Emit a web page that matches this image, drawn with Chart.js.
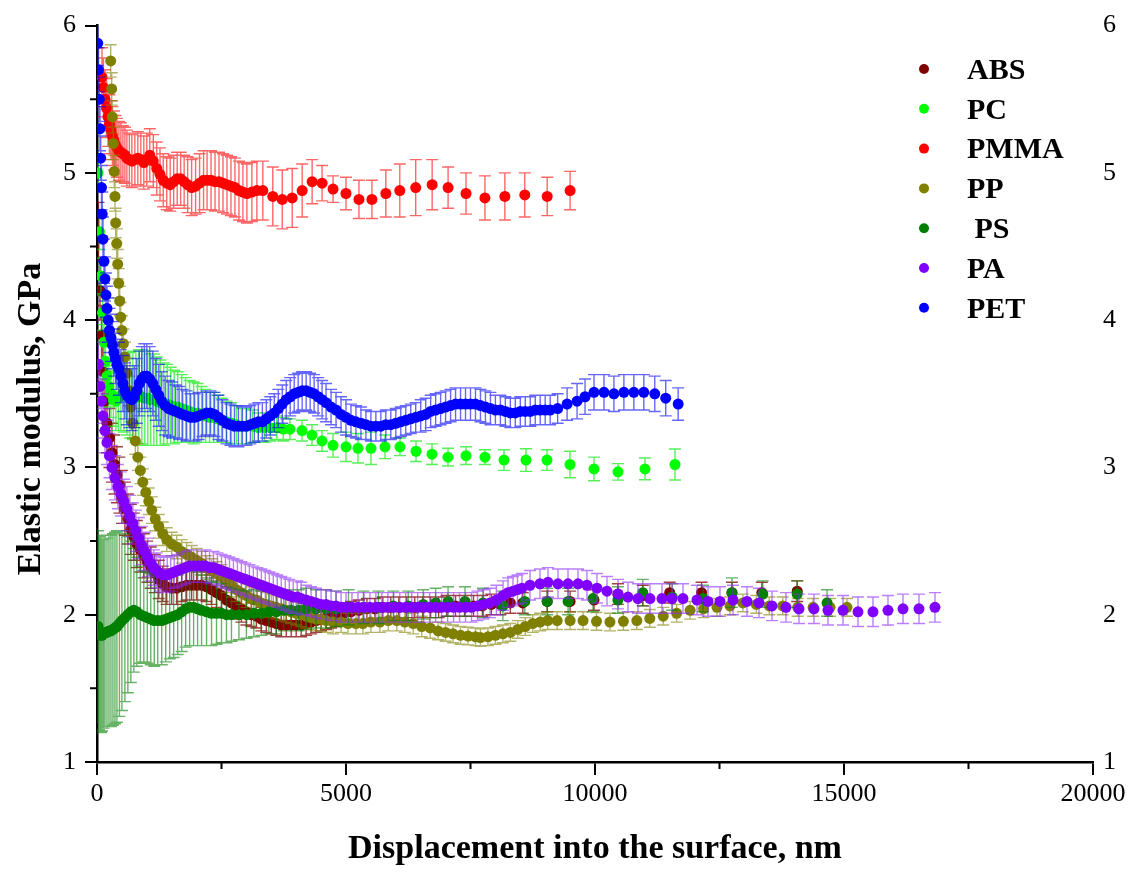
<!DOCTYPE html>
<html lang="en">
<head>
    <title>Elastic modulus vs displacement</title>
    <script src="https://cdn.jsdelivr.net/npm/chart.js"></script>
    <style>
        body { margin: 0; background: #fff; }
    </style>
</head>
<body>
    <canvas id="modulusChart" width="1137" height="874"></canvas>

    <script>
        // rows are [displacement nm, modulus GPa, error GPa]
        var ABS = [[30,4.6,0.2],[60,4.2,0.2],[90,3.9,0.2],[120,3.65,0.2],[160,3.45,0.2],[200,3.3,0.2],[250,3.2,0.2],[300,3.1,0.2],[350,3.02,0.2],[400,2.95,0.19],[450,2.88,0.19],[500,2.8,0.18],[560,2.72,0.18],[620,2.65,0.17],[680,2.58,0.17],[740,2.53,0.16],[800,2.48,0.16],[870,2.44,0.15],[940,2.40,0.15],[1010,2.36,0.14],[1080,2.32,0.14],[1160,2.28,0.13],[1240,2.24,0.13],[1320,2.21,0.12],[1400,2.19,0.12],[1500,2.18,0.11],[1600,2.18,0.11],[1700,2.19,0.1],[1800,2.20,0.1],[1900,2.20,0.1],[2000,2.20,0.1],[2100,2.20,0.1],[2200,2.19,0.1],[2300,2.17,0.1],[2400,2.15,0.1],[2500,2.13,0.1],[2600,2.10,0.09],[2700,2.08,0.09],[2800,2.06,0.09],[2900,2.04,0.09],[3000,2.02,0.09],[3100,2.00,0.08],[3200,1.99,0.08],[3300,1.97,0.08],[3400,1.96,0.08],[3500,1.95,0.08],[3600,1.94,0.08],[3700,1.93,0.08],[3800,1.93,0.08],[3900,1.93,0.08],[4000,1.93,0.08],[4100,1.93,0.08],[4200,1.94,0.08],[4300,1.95,0.08],[4400,1.96,0.08],[4500,1.97,0.08],[4600,1.98,0.08],[4700,1.99,0.08],[4800,2.00,0.08],[4950,2.01,0.07],[5100,2.02,0.07],[5260,2.03,0.07],[5420,2.04,0.07],[5580,2.04,0.07],[5740,2.05,0.07],[5900,2.05,0.07],[6060,2.05,0.07],[6220,2.05,0.07],[6380,2.05,0.07],[6540,2.05,0.07],[6700,2.05,0.07],[6860,2.05,0.07],[7020,2.06,0.07],[7200,2.06,0.07],[7380,2.06,0.07],[7560,2.06,0.07],[7740,2.06,0.07],[7920,2.07,0.07],[8100,2.07,0.07],[8300,2.08,0.07],[8550,2.08,0.07],[9040,2.09,0.07],[9500,2.09,0.07],[9980,2.10,0.07],[10460,2.14,0.07],[10960,2.13,0.07],[11500,2.15,0.07],[12140,2.15,0.07],[12750,2.15,0.07],[13350,2.15,0.07],[14060,2.16,0.07]];

        var PC = [[20,5.0,0.12],[50,4.6,0.12],[80,4.3,0.12],[110,4.05,0.12],[140,3.85,0.12],[170,3.72,0.12],[200,3.62,0.13],[240,3.55,0.14],[280,3.50,0.16],[330,3.46,0.18],[380,3.45,0.2],[430,3.47,0.22],[480,3.49,0.24],[540,3.50,0.26],[600,3.50,0.28],[660,3.49,0.29],[720,3.49,0.3],[780,3.48,0.31],[840,3.48,0.32],[900,3.48,0.32],[960,3.47,0.32],[1020,3.47,0.32],[1080,3.46,0.31],[1140,3.46,0.31],[1200,3.45,0.3],[1270,3.44,0.29],[1340,3.43,0.28],[1410,3.43,0.27],[1480,3.42,0.26],[1550,3.41,0.25],[1620,3.41,0.24],[1700,3.40,0.23],[1780,3.39,0.22],[1860,3.38,0.21],[1940,3.37,0.21],[2020,3.37,0.2],[2100,3.36,0.19],[2180,3.35,0.18],[2260,3.34,0.17],[2340,3.34,0.17],[2420,3.33,0.16],[2500,3.32,0.15],[2600,3.31,0.14],[2700,3.30,0.14],[2800,3.29,0.13],[2900,3.28,0.12],[3000,3.28,0.12],[3120,3.28,0.11],[3240,3.27,0.1],[3360,3.27,0.1],[3480,3.27,0.09],[3610,3.27,0.08],[3740,3.26,0.08],[3875,3.26,0.07],[4116,3.25,0.07],[4317,3.22,0.07],[4518,3.18,0.07],[4739,3.15,0.08],[5000,3.14,0.1],[5241,3.13,0.1],[5502,3.13,0.11],[5783,3.14,0.08],[6084,3.14,0.06],[6406,3.11,0.07],[6727,3.09,0.07],[7048,3.07,0.06],[7410,3.08,0.06],[7791,3.07,0.05],[8173,3.05,0.07],[8614,3.05,0.077],[9036,3.05,0.07],[9498,3.02,0.09],[9980,2.99,0.08],[10462,2.97,0.056],[11004,2.99,0.074],[11606,3.02,0.105]];

        var PMMA = [[100,5.65,0.2],[130,5.58,0.2],[160,5.50,0.2],[190,5.44,0.2],[220,5.38,0.2],[250,5.33,0.2],[280,5.29,0.2],[310,5.25,0.2],[340,5.22,0.2],[370,5.19,0.2],[400,5.17,0.2],[440,5.15,0.2],[480,5.14,0.2],[520,5.13,0.19],[560,5.12,0.19],[600,5.10,0.19],[650,5.09,0.18],[700,5.08,0.18],[760,5.09,0.18],[820,5.10,0.18],[880,5.09,0.18],[940,5.07,0.18],[1000,5.09,0.18],[1060,5.12,0.18],[1130,5.08,0.18],[1200,5.03,0.18],[1265,4.99,0.18],[1330,4.95,0.18],[1400,4.93,0.18],[1470,4.92,0.18],[1540,4.94,0.18],[1610,4.96,0.18],[1680,4.96,0.18],[1750,4.94,0.18],[1820,4.92,0.19],[1900,4.90,0.19],[1980,4.91,0.19],[2060,4.93,0.2],[2140,4.95,0.2],[2210,4.95,0.2],[2290,4.95,0.2],[2370,4.94,0.2],[2450,4.94,0.2],[2530,4.93,0.2],[2610,4.92,0.2],[2690,4.91,0.2],[2770,4.90,0.2],[2850,4.88,0.2],[2930,4.87,0.2],[3010,4.86,0.2],[3110,4.87,0.2],[3210,4.88,0.2],[3330,4.88,0.2],[3530,4.84,0.2],[3720,4.82,0.2],[3920,4.83,0.2],[4120,4.88,0.18],[4320,4.94,0.15],[4520,4.93,0.12],[4740,4.89,0.09],[5000,4.86,0.11],[5260,4.82,0.13],[5520,4.82,0.13],[5800,4.86,0.16],[6080,4.88,0.18],[6400,4.90,0.19],[6730,4.92,0.17],[7050,4.90,0.14],[7410,4.86,0.14],[7790,4.83,0.15],[8190,4.84,0.16],[8590,4.85,0.15],[9040,4.84,0.13],[9500,4.88,0.13]];

        var PP = [[275,5.76,0.11],[295,5.57,0.11],[307,5.38,0.11],[327,5.20,0.11],[347,5.01,0.11],[361,4.84,0.1],[375,4.66,0.1],[396,4.52,0.1],[416,4.38,0.1],[436,4.25,0.1],[456,4.13,0.1],[476,4.02,0.1],[500,3.93,0.1],[530,3.84,0.1],[560,3.75,0.1],[600,3.64,0.1],[640,3.52,0.1],[680,3.41,0.1],[720,3.30,0.1],[770,3.18,0.09],[820,3.07,0.09],[870,2.98,0.09],[920,2.90,0.09],[980,2.83,0.09],[1040,2.77,0.09],[1100,2.71,0.09],[1170,2.65,0.08],[1240,2.60,0.08],[1320,2.55,0.08],[1400,2.51,0.08],[1500,2.48,0.08],[1600,2.46,0.08],[1700,2.43,0.08],[1800,2.41,0.08],[1900,2.39,0.08],[2000,2.37,0.08],[2100,2.35,0.08],[2200,2.32,0.08],[2300,2.30,0.08],[2400,2.28,0.08],[2500,2.26,0.08],[2600,2.23,0.08],[2700,2.20,0.08],[2800,2.17,0.08],[2900,2.15,0.08],[3000,2.13,0.08],[3100,2.11,0.08],[3200,2.10,0.08],[3300,2.08,0.08],[3400,2.07,0.08],[3500,2.06,0.08],[3600,2.05,0.08],[3700,2.04,0.08],[3800,2.03,0.08],[3900,2.02,0.08],[4000,2.01,0.08],[4100,2.00,0.08],[4200,1.99,0.08],[4300,1.98,0.08],[4400,1.97,0.08],[4500,1.97,0.08],[4600,1.96,0.08],[4740,1.95,0.08],[4900,1.95,0.07],[5040,1.94,0.07],[5200,1.94,0.07],[5340,1.94,0.07],[5500,1.95,0.07],[5680,1.95,0.07],[5850,1.96,0.07],[6020,1.96,0.07],[6180,1.95,0.07],[6350,1.94,0.07],[6520,1.92,0.07],[6690,1.91,0.07],[6850,1.89,0.06],[7000,1.88,0.06],[7150,1.87,0.06],[7300,1.86,0.06],[7450,1.855,0.06],[7600,1.85,0.06],[7700,1.845,0.06],[7850,1.85,0.06],[8000,1.86,0.06],[8150,1.87,0.06],[8300,1.88,0.06],[8450,1.90,0.06],[8600,1.92,0.06],[8750,1.94,0.06],[8900,1.95,0.06],[9050,1.96,0.06],[9240,1.96,0.06],[9500,1.96,0.06],[9760,1.96,0.06],[10030,1.955,0.06],[10300,1.95,0.06],[10570,1.955,0.06],[10840,1.96,0.06],[11100,1.975,0.06],[11370,1.99,0.06],[11640,2.01,0.06],[11910,2.03,0.06],[12180,2.04,0.06],[12450,2.05,0.06],[12710,2.06,0.06],[12970,2.08,0.06],[13240,2.07,0.06],[13500,2.06,0.06],[13770,2.06,0.06],[14070,2.05,0.06],[14380,2.05,0.06],[14720,2.05,0.06],[15060,2.05,0.06]];

        var PS = [[20,1.92,0.65],[40,1.88,0.66],[60,1.87,0.66],[80,1.86,0.66],[100,1.86,0.65],[130,1.87,0.64],[160,1.88,0.64],[200,1.88,0.64],[240,1.89,0.65],[280,1.89,0.65],[320,1.90,0.65],[360,1.91,0.65],[400,1.92,0.65],[450,1.94,0.63],[500,1.96,0.61],[560,1.98,0.57],[620,2.00,0.53],[680,2.02,0.48],[740,2.03,0.42],[800,2.02,0.37],[870,2.00,0.33],[940,1.99,0.31],[1010,1.98,0.31],[1080,1.97,0.31],[1150,1.96,0.31],[1220,1.96,0.3],[1300,1.96,0.3],[1380,1.97,0.29],[1460,1.98,0.28],[1540,1.99,0.28],[1620,2.00,0.27],[1700,2.02,0.27],[1780,2.04,0.26],[1860,2.05,0.26],[1940,2.05,0.26],[2020,2.04,0.25],[2100,2.03,0.24],[2200,2.02,0.23],[2300,2.01,0.22],[2400,2.01,0.21],[2500,2.01,0.2],[2600,2.00,0.19],[2700,2.00,0.18],[2850,2.00,0.17],[3000,2.00,0.16],[3150,2.01,0.16],[3300,2.01,0.15],[3450,2.02,0.15],[3600,2.02,0.15],[3750,2.03,0.14],[3900,2.03,0.14],[4050,2.03,0.14],[4200,2.04,0.14],[4400,2.04,0.13],[4600,2.04,0.13],[4800,2.04,0.12],[5050,2.05,0.12],[5350,2.05,0.11],[5650,2.05,0.11],[5950,2.06,0.1],[6250,2.06,0.1],[6550,2.07,0.1],[6800,2.08,0.1],[7050,2.09,0.1],[7390,2.09,0.1],[7750,2.08,0.1],[8150,2.06,0.1],[8590,2.09,0.09],[9040,2.09,0.09],[9460,2.09,0.09],[9960,2.11,0.09],[10460,2.10,0.09],[10960,2.15,0.09],[11550,2.12,0.09],[12170,2.11,0.09],[12750,2.15,0.1],[13370,2.14,0.09],[14060,2.14,0.09],[14660,2.08,0.09]];

        var PA = [[30,3.70,0.15],[60,3.55,0.15],[90,3.45,0.15],[120,3.35,0.15],[160,3.25,0.15],[200,3.17,0.15],[250,3.08,0.15],[300,3.00,0.15],[360,2.93,0.15],[420,2.87,0.15],[480,2.82,0.15],[540,2.77,0.15],[600,2.72,0.15],[660,2.67,0.14],[720,2.62,0.14],[780,2.57,0.14],[840,2.52,0.14],[900,2.47,0.13],[960,2.43,0.13],[1020,2.39,0.13],[1080,2.35,0.12],[1140,2.32,0.12],[1200,2.30,0.12],[1270,2.28,0.12],[1340,2.27,0.12],[1410,2.27,0.12],[1480,2.28,0.12],[1550,2.29,0.11],[1620,2.30,0.11],[1700,2.31,0.11],[1780,2.32,0.11],[1860,2.33,0.11],[1940,2.33,0.11],[2020,2.33,0.11],[2100,2.33,0.11],[2180,2.33,0.11],[2260,2.32,0.11],[2340,2.32,0.11],[2420,2.31,0.11],[2500,2.30,0.11],[2580,2.29,0.11],[2660,2.28,0.11],[2740,2.27,0.11],[2820,2.26,0.11],[2900,2.25,0.11],[2980,2.24,0.11],[3060,2.23,0.11],[3140,2.22,0.11],[3220,2.21,0.11],[3300,2.20,0.11],[3380,2.19,0.11],[3460,2.18,0.11],[3540,2.17,0.11],[3620,2.16,0.11],[3700,2.15,0.11],[3780,2.14,0.11],[3860,2.13,0.11],[3940,2.12,0.11],[4020,2.12,0.11],[4100,2.11,0.11],[4200,2.10,0.1],[4300,2.09,0.1],[4400,2.08,0.1],[4500,2.07,0.1],[4600,2.07,0.1],[4700,2.06,0.1],[4800,2.06,0.1],[4900,2.05,0.1],[5000,2.05,0.1],[5120,2.05,0.1],[5240,2.05,0.1],[5360,2.05,0.1],[5480,2.05,0.1],[5600,2.05,0.1],[5720,2.05,0.1],[5840,2.05,0.1],[5960,2.05,0.1],[6080,2.05,0.1],[6200,2.05,0.1],[6320,2.05,0.1],[6440,2.05,0.1],[6560,2.05,0.1],[6680,2.05,0.1],[6800,2.05,0.1],[6920,2.05,0.1],[7040,2.05,0.1],[7160,2.05,0.1],[7280,2.05,0.1],[7400,2.05,0.1],[7520,2.05,0.1],[7640,2.06,0.1],[7760,2.07,0.1],[7891,2.08,0.1],[8020,2.10,0.1],[8153,2.13,0.1],[8253,2.15,0.1],[8353,2.16,0.1],[8443,2.17,0.1],[8534,2.18,0.1],[8695,2.20,0.1],[8895,2.21,0.1],[9056,2.22,0.1],[9257,2.21,0.1],[9458,2.21,0.1],[9659,2.21,0.1],[9839,2.20,0.1],[10040,2.18,0.1],[10241,2.16,0.1],[10462,2.14,0.1],[10662,2.12,0.1],[10863,2.11,0.1],[11104,2.11,0.1],[11345,2.11,0.1],[11546,2.11,0.1],[11767,2.11,0.1],[12048,2.10,0.1],[12269,2.09,0.1],[12510,2.09,0.1],[12771,2.10,0.1],[13052,2.09,0.1],[13293,2.08,0.1],[13554,2.06,0.1],[13835,2.05,0.1],[14096,2.04,0.1],[14397,2.04,0.1],[14678,2.03,0.1],[14980,2.03,0.1],[15281,2.02,0.1],[15582,2.02,0.1],[15883,2.03,0.1],[16185,2.04,0.1],[16506,2.04,0.1],[16827,2.05,0.1]];

        var PET = [[15,5.88,0.15],[30,5.70,0.15],[45,5.50,0.15],[60,5.30,0.15],[75,5.10,0.15],[90,4.90,0.15],[105,4.72,0.15],[120,4.55,0.15],[140,4.40,0.15],[160,4.28,0.15],[180,4.17,0.15],[200,4.08,0.15],[225,4.00,0.15],[250,3.93,0.15],[280,3.88,0.16],[310,3.83,0.16],[340,3.78,0.16],[370,3.74,0.17],[400,3.70,0.17],[440,3.67,0.18],[480,3.62,0.18],[520,3.57,0.19],[560,3.52,0.19],[600,3.49,0.2],[650,3.47,0.2],[700,3.46,0.21],[750,3.48,0.21],[800,3.52,0.22],[850,3.57,0.22],[900,3.60,0.22],[950,3.62,0.22],[1000,3.62,0.22],[1060,3.60,0.22],[1120,3.57,0.22],[1180,3.53,0.21],[1240,3.49,0.21],[1300,3.45,0.2],[1370,3.42,0.2],[1440,3.40,0.19],[1510,3.39,0.19],[1580,3.38,0.18],[1650,3.37,0.18],[1720,3.36,0.17],[1800,3.35,0.17],[1880,3.34,0.16],[1960,3.34,0.16],[2040,3.35,0.16],[2120,3.36,0.15],[2200,3.37,0.15],[2280,3.37,0.15],[2360,3.36,0.15],[2440,3.34,0.15],[2520,3.32,0.14],[2600,3.30,0.14],[2680,3.29,0.14],[2760,3.28,0.14],[2840,3.28,0.14],[2920,3.28,0.13],[3000,3.28,0.13],[3080,3.29,0.13],[3160,3.30,0.13],[3240,3.31,0.13],[3320,3.31,0.13],[3400,3.33,0.13],[3480,3.35,0.13],[3560,3.37,0.13],[3640,3.40,0.13],[3720,3.43,0.13],[3800,3.46,0.13],[3880,3.48,0.13],[3960,3.50,0.13],[4040,3.51,0.13],[4120,3.52,0.13],[4200,3.52,0.13],[4280,3.51,0.13],[4360,3.50,0.13],[4440,3.48,0.13],[4520,3.46,0.13],[4600,3.44,0.13],[4700,3.41,0.12],[4800,3.39,0.12],[4900,3.36,0.12],[5000,3.34,0.12],[5100,3.32,0.11],[5200,3.31,0.11],[5300,3.30,0.11],[5400,3.29,0.1],[5500,3.28,0.1],[5600,3.28,0.1],[5700,3.28,0.1],[5800,3.29,0.1],[5900,3.29,0.1],[6000,3.30,0.1],[6100,3.31,0.1],[6200,3.32,0.1],[6300,3.33,0.1],[6400,3.34,0.1],[6500,3.35,0.11],[6600,3.36,0.11],[6700,3.38,0.11],[6800,3.39,0.11],[6900,3.40,0.11],[7000,3.41,0.11],[7100,3.42,0.11],[7200,3.43,0.11],[7300,3.43,0.11],[7400,3.43,0.11],[7500,3.43,0.11],[7600,3.43,0.11],[7700,3.42,0.11],[7800,3.41,0.11],[7900,3.40,0.11],[8000,3.39,0.1],[8100,3.39,0.1],[8200,3.38,0.1],[8300,3.37,0.1],[8400,3.37,0.1],[8500,3.38,0.1],[8600,3.38,0.1],[8700,3.38,0.1],[8800,3.39,0.1],[8900,3.39,0.1],[9000,3.39,0.1],[9100,3.39,0.1],[9250,3.40,0.1],[9440,3.43,0.11],[9640,3.45,0.12],[9800,3.48,0.12],[9980,3.51,0.12],[10180,3.51,0.12],[10380,3.50,0.12],[10580,3.51,0.12],[10780,3.51,0.12],[10980,3.51,0.12],[11200,3.50,0.12],[11420,3.47,0.12],[11670,3.43,0.11]];

        var seriesNames = ['ABS', 'PC', 'PMMA', 'PP', ' PS', 'PA', 'PET'];
        var seriesRows = [ABS, PC, PMMA, PP, PS, PA, PET];
        var seriesColors = ['#800000', '#00ff00', '#ff0000', '#808000', '#008000', '#8000ff', '#0000ff'];
        var barColors = ['rgba(128,0,0,0.75)', 'rgba(0,230,0,0.65)', 'rgba(255,0,0,0.6)', 'rgba(128,128,0,0.6)', 'rgba(0,128,0,0.6)', 'rgba(140,40,255,0.6)', 'rgba(0,0,255,0.6)'];
        var xTicksMajor = [0, 5000, 10000, 15000, 20000];

        var serif = '"Liberation Serif", "Times New Roman", serif';

        var datasets = seriesRows.map(function (rows, i) {
            return {
                label: seriesNames[i],
                data: rows.map(function (r) { return { x: r[0], y: r[1] }; }),
                errors: rows.map(function (r) { return r[2]; }),
                barColor: barColors[i],
                backgroundColor: seriesColors[i],
                borderColor: seriesColors[i],
                pointRadius: 5.5,
                pointBorderWidth: 0,
                pointHoverRadius: 5.5,
                order: seriesRows.length - i
            };
        });

        // vertical error bars drawn right before each series' points
        var errorBars = {
            id: 'errorBars',
            beforeDatasetDraw: function (chart, args) {
                var ds = chart.data.datasets[args.index];
                var ctx = chart.ctx, area = chart.chartArea;
                var xs = chart.scales.x, ys = chart.scales.y;
                ctx.save();
                ctx.beginPath();
                ctx.rect(area.left, area.top, area.right - area.left, area.bottom - area.top);
                ctx.clip();
                ctx.strokeStyle = ds.barColor;
                ctx.lineWidth = 1.4;
                ctx.beginPath();
                ds.data.forEach(function (p, k) {
                    var px = xs.getPixelForValue(p.x);
                    var top = ys.getPixelForValue(p.y + ds.errors[k]);
                    var bot = ys.getPixelForValue(p.y - ds.errors[k]);
                    ctx.moveTo(px, top); ctx.lineTo(px, bot);
                    ctx.moveTo(px - 6, top); ctx.lineTo(px + 6, top);
                    ctx.moveTo(px - 6, bot); ctx.lineTo(px + 6, bot);
                });
                ctx.stroke();
                ctx.restore();
            }
        };

        // minor ticks, y title and the legend
        var decorations = {
            id: 'decorations',
            afterDraw: function (chart) {
                var ctx = chart.ctx, area = chart.chartArea;
                var xs = chart.scales.x, ys = chart.scales.y;
                ctx.save();
                ctx.strokeStyle = '#000';
                ctx.lineWidth = 2;
                ctx.beginPath();
                for (var v = 1.5; v < 6; v += 1) {
                    var py = ys.getPixelForValue(v);
                    ctx.moveTo(area.left, py); ctx.lineTo(area.left - 7, py);
                }
                for (var k = 0; k < xTicksMajor.length - 1; k++) {
                    var px = xs.getPixelForValue((xTicksMajor[k] + xTicksMajor[k + 1]) / 2);
                    ctx.moveTo(px, area.bottom); ctx.lineTo(px, area.bottom + 7);
                }
                ctx.stroke();

                ctx.fillStyle = '#000';
                ctx.font = 'bold 34px ' + serif;
                ctx.textAlign = 'center';
                ctx.textBaseline = 'middle';
                ctx.translate(31, 419);
                ctx.rotate(-Math.PI / 2);
                ctx.fillText('Elastic modulus, GPa', 0, 0);
                ctx.restore();

                ctx.save();
                ctx.font = 'bold 30px ' + serif;
                ctx.textAlign = 'left';
                ctx.textBaseline = 'middle';
                chart.data.datasets.forEach(function (ds, i) {
                    var rowY = 69 + i * 39.8;
                    ctx.fillStyle = ds.backgroundColor;
                    ctx.beginPath();
                    ctx.arc(924, rowY, 5, 0, Math.PI * 2);
                    ctx.fill();
                    ctx.fillStyle = '#000';
                    ctx.fillText(ds.label, 967, rowY + 2);
                });
                ctx.restore();
            }
        };

        var ctx = document.getElementById('modulusChart').getContext('2d');
        var myChart = new Chart(ctx, {
            type: 'scatter',
            data: { datasets: datasets },
            plugins: [errorBars, decorations],
            options: {
                responsive: false,
                animation: false,
                devicePixelRatio: 1,
                layout: { padding: { top: 22, left: 0, right: 0, bottom: 0 } },
                plugins: {
                    legend: { display: false },
                    tooltip: { enabled: false }
                },
                scales: {
                    x: {
                        type: 'linear',
                        min: 0,
                        max: 20000,
                        ticks: {
                            stepSize: 5000,
                            color: '#000',
                            padding: 4,
                            maxRotation: 0,
                            font: { family: serif, size: 26 },
                            callback: function (value) { return String(value); }
                        },
                        grid: { drawOnChartArea: false, color: '#000', lineWidth: 2, tickLength: 13 },
                        border: { color: '#000', width: 2.5 },
                        title: {
                            display: true,
                            text: 'Displacement into the surface, nm',
                            color: '#000',
                            font: { family: serif, size: 34, weight: 'bold' },
                            padding: { top: 4, bottom: 4 }
                        },
                        afterFit: function (scale) { scale.height = 112; }
                    },
                    y: {
                        position: 'left',
                        min: 1,
                        max: 6,
                        ticks: {
                            stepSize: 1,
                            color: '#000',
                            padding: 9,
                            font: { family: serif, size: 26 }
                        },
                        grid: { drawOnChartArea: false, color: '#000', lineWidth: 2, tickLength: 12 },
                        border: { color: '#000', width: 2.5 },
                        afterFit: function (scale) { scale.width = 97; }
                    },
                    y2: {
                        position: 'right',
                        min: 1,
                        max: 6,
                        ticks: {
                            stepSize: 1,
                            color: '#000',
                            padding: 10,
                            font: { family: serif, size: 26 }
                        },
                        grid: { display: false, drawTicks: false },
                        border: { display: false },
                        afterFit: function (scale) { scale.width = 44; }
                    }
                }
            }
        });
    </script>
</body>
</html>
